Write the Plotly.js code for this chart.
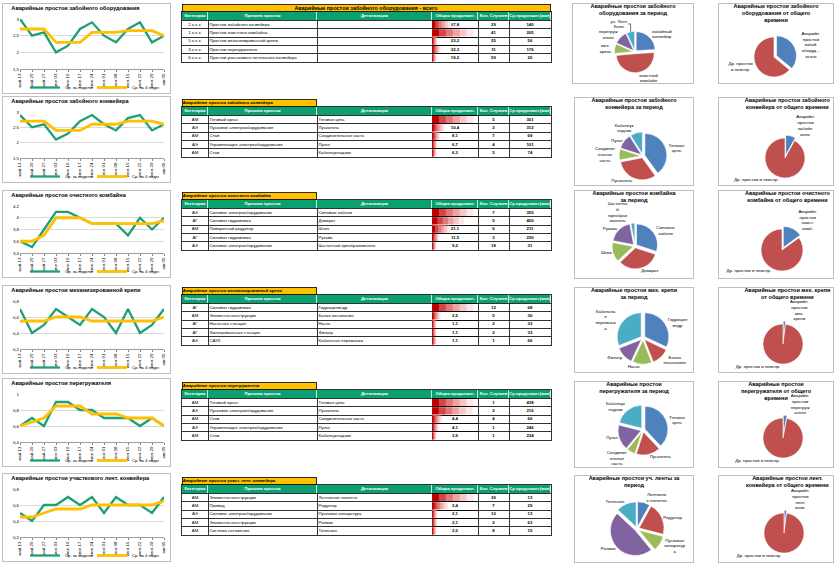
<!DOCTYPE html>
<html><head><meta charset="utf-8">
<script src="https://cdn.plot.ly/plotly-3.0.1.min.js"></script>
<style>
html,body{margin:0;padding:0;background:#fff;}
body{width:840px;height:568px;position:relative;overflow:hidden;}
</style></head><body>
<script>
// ---------- DATA ----------
const weekLabels = ["май.13","май.20","май.27","июн.03","июн.10","июн.17","июн.24","июл.01","июл.08","июл.15","июл.22","июл.29","авг.05"];
const legendNames = ["Ср. за неделю","Ср. за 4 недели"];

const lineTitles = ["Аварийные простои забойного оборудования","Аварийные простои забойного конвейера","Аварийные простои очистного комбайна","Аварийные простои механизированной крепи","Аварийные простои перегружателя","Аварийные простои участкового лент. конвейера"];
const weekly1 = [3.0,2.5,2.6,2.0,2.2,2.7,2.9,2.5,2.3,2.7,2.9,2.3,2.5];
const monthly1 = [2.7,2.7,2.7,2.3,2.3,2.3,2.6,2.6,2.6,2.65,2.65,2.65,2.5];
const weekly2 = [2.9,2.5,2.6,2.1,2.3,2.7,2.9,2.6,2.4,2.8,2.9,2.4,2.6];
const monthly2 = [2.7,2.7,2.7,2.4,2.4,2.4,2.6,2.6,2.6,2.7,2.7,2.7,2.6];
const weekly3 = [3.6,3.5,3.8,4.1,4.1,4.0,3.9,3.9,3.9,3.7,4.0,3.8,4.0];
const monthly3 = [3.6,3.6,3.7,4.0,4.0,4.0,3.9,3.9,3.9,3.9,3.9,3.9,3.95];
const weekly4 = [0.7,0.4,0.5,0.7,0.6,0.5,0.7,0.6,0.4,0.7,0.4,0.5,0.7];
const monthly4 = [0.55,0.55,0.55,0.6,0.6,0.6,0.55,0.55,0.55,0.55,0.55,0.55,0.6];
const weekly5 = [0.6,0.7,0.6,0.9,0.9,0.8,0.8,0.7,0.7,0.7,0.6,0.7,0.6];
const monthly5 = [0.6,0.65,0.7,0.85,0.85,0.85,0.75,0.75,0.75,0.7,0.7,0.7,0.6];
const weekly6 = [0.5,0.4,0.6,0.6,0.7,0.6,0.7,0.5,0.7,0.6,0.6,0.5,0.7];
const monthly6 = [0.45,0.45,0.5,0.55,0.55,0.55,0.6,0.6,0.6,0.6,0.6,0.6,0.65];

const headerLabels = ["Категория","Причина простоя","Детализация","Общая продолжит.","Кол. Случаев","Ср.продолжит.(мин)"];
const tableTitles = ["Аварийные простои забойного оборудования - всего","Аварийные простои забойного конвейера","Аварийные простои очистного комбайна","Аварийные простои механизированной крепи","Аварийные простои перегружателя","Аварийные простои участ. лент. конвейера"];

const cat1 = ["2.х.х.х.","1.х.х.х.","5.х.х.х.","3.х.х.х.","6.х.х.х."];
const cause1 = ["Простои забойного конвейера","Простои очистного комбайна","Простои механизированной крепи","Простои перегружателя","Простои участкового ленточного конвейера"];
const detail1 = ["","","","",""];
const total1 = [67.8,139.8,23.2,32.3,19.2];
const count1 = [29,41,25,11,59];
const avg1 = [140,205,56,176,20];

const cat2 = ["АМ","АЭ","АМ","АЭ","АМ"];
const cause2 = ["Тяговый орган","Пусковое электрооборудование","Став","Управляющее электрооборудование","Став"];
const detail2 = ["Тяговая цепь","Пускатель","Соединительная часть","Пульт","Кабелеукладчик"];
const total2 = [25.1,10.4,8.1,6.7,6.3];
const count2 = [5,2,7,4,5];
const avg2 = [301,312,69,101,74];

const cat3 = ["АЭ","АГ","АМ","АГ","АЭ"];
const cause3 = ["Силовое электрооборудование","Силовая гидравлика","Поворотный редуктор","Силовая гидравлика","Силовое электрооборудование"];
const detail3 = ["Силовые кабели","Домкрат","Шнек","Рукава","Частотный преобразователь"];
const total3 = [41.4,33.3,21.1,11.5,9.2];
const count3 = [7,5,6,3,18];
const avg3 = [355,400,211,230,31];

const cat4 = ["АГ","АМ","АГ","АГ","АЭ"];
const cause4 = ["Силовая гидравлика","Элементы конструкции","Насосная станция","Фильтровальная станция","САУК"];
const detail4 = ["Гидроцилиндр","Балка посыпания","Насос","Фильтр","Кабельная перемычка"];
const total4 = [13.5,2.5,1.1,1.1,1.1];
const count4 = [12,5,2,2,1];
const avg4 = [68,30,33,33,66];

const cat5 = ["АМ","АЭ","АМ","АЭ","АМ"];
const cause5 = ["Тяговый орган","Пусковое электрооборудование","Став","Управляющее электрооборудование","Став"];
const detail5 = ["Тяговая цепь","Пускатель","Соединительная часть","Пульт","Кабелеукладчик"];
const total5 = [7.3,7.2,4.4,4.1,3.9];
const count5 = [1,2,4,1,1];
const avg5 = [438,216,66,246,234];

const cat6 = ["АМ","АМ","АЭ","АМ","АМ"];
const cause6 = ["Элементы конструкции","Привод","Силовое электрооборудование","Элементы конструкции","Система натяжения"];
const detail6 = ["Ленточное полотно","Редуктор","Пусковая аппаратура","Ролики","Телескоп"];
const total6 = [6.6,3.4,2.1,2.1,2.0];
const count6 = [30,7,10,2,8];
const avg6 = [13,29,13,63,15];

const pieTitles = ["Аварийные простои забойного<br>оборудования за период","Аварийные простои забойного<br>конвейера за период","Аварийные простои комбайна<br>за период","Аварийные простои мех. крепи<br>за период","Аварийные простои<br>перегружателя за период","Аварийные простои уч. ленты за<br>период"];
const pieLabels1 = ["забойный<br>конвейер","очистной<br>комбайн","мех.<br>крепь","перегруж<br>атель","уч. Лент.<br>Конв."];
const pieValues1 = [67.8,139.8,23.2,32.3,19.2];
const pieLabels2 = ["Тяговая<br>цепь","Пускатель","Соединит<br>ельная<br>часть","Пульт","Кабелеук<br>ладчик"];
const pieValues2 = [40,32,8,11,9];
const pieLabels3 = ["Силовые<br>кабели","Домкрат","Шнек","Рукава","Частотны<br>й<br>преобраз<br>ователь"];
const pieValues3 = [30,33,15,19,3];
const pieLabels4 = ["Гидроцил<br>индр","Балка<br>посыпания","Насос","Фильтр","Кабельна<br>я<br>перемычк<br>а"];
const pieValues4 = [32,12,13,12,31];
const pieLabels5 = ["Тяговая<br>цепь","Пускатель","Соединит<br>ельная<br>часть","Пульт","Кабелеук<br>ладчик"];
const pieValues5 = [38,17,6,18,21];
const pieLabels6 = ["Ленточно<br>е полотно","Редуктор","Пусковая<br>аппаратур<br>а","Ролики","Телескоп"];
const pieValues6 = [8,21,10,48,13];

const shareTitles = ["Аварийные простои забойного<br>оборудования от общего<br>времени","Аварийные простои забойного<br>конвейера от общего времени","Аварийные простои очистного<br>комбайна от общего времени","Аварийные простои мех. крепи<br>от общего времени","Аварийные простои<br>перегружателя от общего<br>времени","Аварийные простои лент.<br>конвейера от общего времени"];
const shareLabels1 = ["Аварийн.<br>простои<br>забой.<br>оборуд. -<br>всего","Др. простои<br>и неиспр."];
const shareValues1 = [36,64];
const shareLabels2 = ["Аварийн.<br>простои<br>забойн.<br>конв.","Др. простои и неиспр."];
const shareValues2 = [8,92];
const shareLabels3 = ["Аварийн.<br>простои<br>очист.<br>комб.","Др. простои и неиспр."];
const shareValues3 = [15,85];
const shareLabels4 = ["Аварийн.<br>простои<br>мех.<br>крепи","Др. простои и неиспр."];
const shareValues4 = [2,98];
const shareLabels5 = ["Аварийн.<br>простои<br>перегруж<br>ателя","Др. простои и неиспр."];
const shareValues5 = [3,97];
const shareLabels6 = ["Аварийн.<br>простои<br>лент.<br>конв.","Др. простои и неиспр."];
const shareValues6 = [2,98];

// ---------- STYLE / LAYOUT ----------
const FONT = '"Liberation Sans", Arial, sans-serif';
const GREEN = '#1E9F78', YELLOW = '#FFC000', HEAD = '#0BA06F';
const PIE_COLORS = ['#4F81BD','#C0504D','#9BBB59','#8064A2','#4BACC6'];
const SHARE_COLORS = ['#4F81BD','#C0504D'];
const COL_EDGES = [0,26,135,250,296,327,369];
const COL_ALIGN = ['c','l','l','c','c','c'];
const BAR_GRAD = ['#FCE8E8','#F7C8C8','#EFA2A2','#E37777','#D44646','#C00000'];
const CFG = {staticPlot:true, displayModeBar:false};

function addDiv(x,y,w,h,border){
  const d=document.createElement('div');
  d.style.cssText='position:absolute;left:'+x+'px;top:'+y+'px;width:'+w+'px;height:'+h+'px;box-sizing:border-box;overflow:hidden;'+(border?'background:#fff;border:1px solid #BFBFBF;':'');
  document.body.appendChild(d);
  const inner=document.createElement('div'); d.appendChild(inner); return inner;
}

function drawLine(box,title,weekly,monthly,yRange,yDtick){
  const el=addDiv(box[0],box[1],box[2],box[3],true);
  const extra=9;
  const w=box[2]-2,h=box[3]-2+extra, mt=15, mb=0, paperH=h-mt-mb;
  const plotBottom=24+extra;
  Plotly.newPlot(el,[
    {type:'scatter',mode:'lines',x:weekLabels,y:weekly,name:legendNames[0],line:{color:GREEN,width:2.3}},
    {type:'scatter',mode:'lines',x:weekLabels,y:monthly,name:legendNames[1],line:{color:YELLOW,width:2.8}}
  ],{
    width:w,height:h,margin:{l:17,r:6,t:mt,b:mb},paper_bgcolor:'#fff',plot_bgcolor:'#fff',separators:', ',
    font:{family:FONT,size:4.5,color:'#000'},
    title:{text:'<b>'+title+'</b>',x:0.05,xanchor:'left',y:1-2/h,yanchor:'top',font:{size:5.6,family:FONT,color:'#000'}},
    xaxis:{type:'category',tickangle:-90,tickfont:{size:4.4},showline:true,linecolor:'#868686',linewidth:0.8,ticks:'outside',ticklen:2,tickcolor:'#868686',showgrid:false,fixedrange:true,automargin:false},
    yaxis:{domain:[plotBottom/paperH,1],range:yRange,dtick:yDtick,tickfont:{size:4.4},showgrid:true,gridcolor:'#BFBFBF',gridwidth:0.6,zeroline:false,showline:false,ticks:'',fixedrange:true,automargin:false},
    legend:{orientation:'h',xref:'paper',x:0.5,xanchor:'center',y:0,yanchor:'bottom',font:{size:4.2},bgcolor:'rgba(0,0,0,0)',itemwidth:30,entrywidth:22,entrywidthmode:'pixels'},
    showlegend:true
  },CFG);
}

function fmt1(v){return '<b>'+v.toFixed(1).replace('.',',')+'</b>';}
function fmtB(v){return '<b>'+v+'</b>';}

function drawTable(x,y,title,full,cat,cause,detail,total,count,avg){
  const W=COL_EDGES[COL_EDGES.length-1], tH=8, rH=8.3, n=cat.length;
  const plotH=(n+1)*rH, H=Math.round(tH+plotH+2);
  const el=addDiv(x,y,W+2,H,false);
  const rows=total.map((v,i)=>i);
  const mid=i=>(COL_EDGES[i]+COL_EDGES[i+1])/2;
  const mn=Math.min.apply(null,total), mx=Math.max.apply(null,total);
  const span=(mx-mn)/0.8||1, a=mn-0.1*span;
  const traces=[];
  traces.push({type:'heatmap',x:COL_EDGES,y:[-1.5,-0.5],z:[COL_EDGES.slice(1).map(()=>1)],colorscale:[[0,HEAD],[1,HEAD]],showscale:false,xgap:0.8,ygap:0,hoverinfo:'skip',xaxis:'x',yaxis:'y'});
  BAR_GRAD.forEach((c,k)=>traces.push({type:'bar',orientation:'h',y:rows,x:total.map(v=>(v-a)*(1-k/BAR_GRAD.length)),base:a,marker:{color:c,line:{width:0}},width:0.82,xaxis:'x2',yaxis:'y',hoverinfo:'skip',showlegend:false}));
  traces.push({type:'scatter',mode:'text',x:headerLabels.map((s,i)=>mid(i)),y:headerLabels.map(()=>-1),text:headerLabels.map(s=>'<b>'+s+'</b>'),textposition:'middle center',textfont:{size:4.2,color:'#fff',family:FONT},xaxis:'x3',yaxis:'y',hoverinfo:'skip',showlegend:false});
  const cols=[cat,cause,detail,total.map(fmt1),count.map(fmtB),avg.map(fmtB)];
  cols.forEach((vals,ci)=>{
    const left=COL_ALIGN[ci]==='l';
    traces.push({type:'scatter',mode:'text',x:vals.map(()=>left?COL_EDGES[ci]+1.5:mid(ci)),y:rows,text:vals,
      textposition:left?'middle right':'middle center',textfont:{size:4.3,color:'#000',family:FONT},xaxis:'x3',yaxis:'y',hoverinfo:'skip',showlegend:false});
  });
  Plotly.newPlot(el,traces,{
    width:W+2,height:H,margin:{l:1,r:1,t:tH,b:H-tH-plotH},paper_bgcolor:'rgba(0,0,0,0)',plot_bgcolor:'rgba(0,0,0,0)',barmode:'overlay',showlegend:false,
    xaxis:{range:[0,W],tickvals:COL_EDGES.slice(1,-1),showticklabels:false,ticks:'',showgrid:true,gridcolor:'#000',gridwidth:0.8,zeroline:false,showline:true,mirror:true,linecolor:'#000',linewidth:0.8,fixedrange:true},
    xaxis2:{domain:[COL_EDGES[3]/W,COL_EDGES[4]/W],range:[a,a+span],anchor:'y',visible:false,showgrid:false,fixedrange:true},
    xaxis3:{overlaying:'x',range:[0,W],anchor:'y',visible:false,showgrid:false,fixedrange:true},
    yaxis:{range:[n-0.5,-1.5],tickvals:rows.map(r=>r-0.5),showticklabels:false,ticks:'',showgrid:true,gridcolor:'#000',gridwidth:0.8,zeroline:false,showline:true,mirror:true,linecolor:'#000',linewidth:0.8,fixedrange:true},
    annotations:[{xref:'paper',yref:'paper',x:0,xanchor:'left',y:1,yanchor:'bottom',width:full?W-2:COL_EDGES[2]-2,height:tH-2,bgcolor:YELLOW,bordercolor:'#000',borderwidth:0.8,borderpad:0,align:full?'center':'left',text:'<b>'+title+'</b>',showarrow:false,font:{family:FONT,size:full?5.4:4.3,color:'#000'}}]
  },CFG);
}

function drawPie(box,title,labels,values,colors,pull,c,r,tx){
  const el=addDiv(box[0],box[1],box[2],box[3],true);
  const w=box[2]-2,h=box[3]-2;
  const maxPull=Math.max.apply(null,Array.isArray(pull)?pull:[pull]);
  const R=r*(1+maxPull);
  Plotly.newPlot(el,[{type:'pie',labels:labels,values:values,sort:false,direction:'clockwise',rotation:0,pull:pull,
    textinfo:'label',textposition:'outside',textfont:{size:4.4,color:'#000',family:FONT},
    marker:{colors:colors,line:{color:'#fff',width:0.6}},
    domain:{x:[(c[0]-R)/w,(c[0]+R)/w],y:[(h-c[1]-R)/h,(h-c[1]+R)/h]},showlegend:false,automargin:false,hoverinfo:'skip'}],
  {width:w,height:h,margin:{l:0,r:0,t:0,b:0},paper_bgcolor:'#fff',
   title:{text:'<b>'+title+'</b>',x:tx||0.5,xanchor:'center',y:1-4/h,yanchor:'top',font:{size:5.5,family:FONT,color:'#000'}}},CFG);
}

// ---------- DRAW ----------
drawLine([2,3,169,91],lineTitles[0],weekly1,monthly1,[1.5,3],0.5);
drawLine([2,96,169,87],lineTitles[1],weekly2,monthly2,[1.5,3],0.5);
drawLine([2,190,169,88],lineTitles[2],weekly3,monthly3,[3.4,4.2],0.2);
drawLine([2,285,169,89],lineTitles[3],weekly4,monthly4,[0.2,0.8],0.2);
drawLine([2,378,169,89],lineTitles[4],weekly5,monthly5,[0.4,1.0],0.2);
drawLine([2,473,169,89],lineTitles[5],weekly6,monthly6,[0.2,0.8],0.2);

drawTable(181,4,tableTitles[0],true,cat1,cause1,detail1,total1,count1,avg1);
drawTable(181,99,tableTitles[1],false,cat2,cause2,detail2,total2,count2,avg2);
drawTable(181,192,tableTitles[2],false,cat3,cause3,detail3,total3,count3,avg3);
drawTable(181,287,tableTitles[3],false,cat4,cause4,detail4,total4,count4,avg4);
drawTable(181,382,tableTitles[4],false,cat5,cause5,detail5,total5,count5,avg5);
drawTable(181,477,tableTitles[5],false,cat6,cause6,detail6,total6,count6,avg6);

const PULL=0.09, SPULL=[0.14,0];
drawPie([572,3,122,81],pieTitles[0],pieLabels1,pieValues1,PIE_COLORS,PULL,[62,48],19);
drawPie([574,97,120,89],pieTitles[1],pieLabels2,pieValues2,PIE_COLORS,PULL,[68,58],22);
drawPie([574,190,120,89],pieTitles[2],pieLabels3,pieValues3,PIE_COLORS,PULL,[60,55],21);
drawPie([574,287,120,86],pieTitles[3],pieLabels4,pieValues4,PIE_COLORS,PULL,[68,50],24);
drawPie([574,381,120,87],pieTitles[4],pieLabels5,pieValues5,PIE_COLORS,PULL,[68,48],23);
drawPie([574,475,120,88],pieTitles[5],pieLabels6,pieValues6,PIE_COLORS,PULL,[62,53],25);

drawPie([718,3,116,81],shareTitles[0],shareLabels1,shareValues1,SHARE_COLORS,SPULL,[55,53],20);
drawPie([718,97,116,89],shareTitles[1],shareLabels2,shareValues2,SHARE_COLORS,SPULL,[66,60],20,0.6);
drawPie([718,190,116,89],shareTitles[2],shareLabels3,shareValues3,SHARE_COLORS,SPULL,[63,59],21,0.6);
drawPie([718,287,116,86],shareTitles[3],shareLabels4,shareValues4,SHARE_COLORS,SPULL,[64,56],20,0.6);
drawPie([718,381,116,87],shareTitles[4],shareLabels5,shareValues5,SHARE_COLORS,SPULL,[64,56],20);
drawPie([718,475,116,88],shareTitles[5],shareLabels6,shareValues6,SHARE_COLORS,SPULL,[65,57],20,0.6);
</script>
</body></html>
